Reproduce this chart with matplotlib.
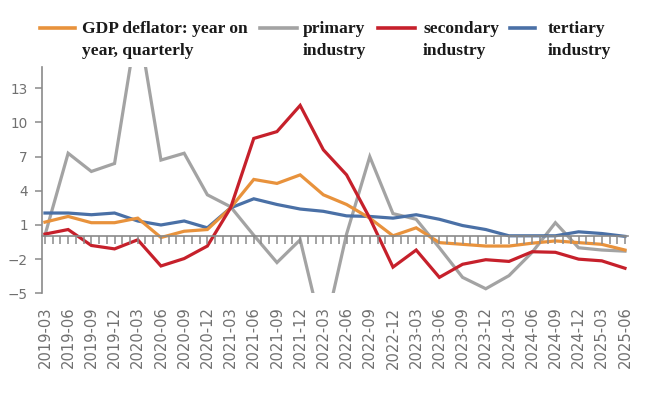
import numpy as np
import matplotlib
matplotlib.use("Agg")
import matplotlib.pyplot as plt
from matplotlib.lines import Line2D

# quarterly dates and y/y changes (%)
quarters = ['2019-03', '2019-06', '2019-09', '2019-12', '2020-03', '2020-06',
            '2020-09', '2020-12', '2021-03', '2021-06', '2021-09', '2021-12',
            '2022-03', '2022-06', '2022-09', '2022-12', '2023-03', '2023-06',
            '2023-09', '2023-12', '2024-03', '2024-06', '2024-09', '2024-12',
            '2025-03', '2025-06']

gdp_deflator = [1.25, 1.75, 1.2, 1.2, 1.6, -0.1, 0.45, 0.6, 2.5, 5.0, 4.65, 5.4, 3.65,
                2.8, 1.6, 0.05, 0.75, -0.55, -0.7, -0.85, -0.85, -0.6, -0.4, -0.55, -0.7, -1.2]
primary = [0.1, 7.3, 5.7, 6.4, 19.0, 6.7, 7.3, 3.65, 2.6, 0.1, -2.3, -0.3, -8.8,
           0.2, 7.0, 2.0, 1.5, -1.0, -3.6, -4.6, -3.45, -1.4, 1.2, -1.0, -1.2, -1.3]
secondary = [0.2, 0.6, -0.8, -1.1, -0.3, -2.6, -1.95, -0.85, 2.5, 8.6, 9.2, 11.5, 7.6,
             5.4, 1.6, -2.7, -1.2, -3.6, -2.45, -2.05, -2.2, -1.35, -1.4, -2.0, -2.15, -2.8]
tertiary = [2.05, 2.05, 1.9, 2.05, 1.35, 1.0, 1.35, 0.75, 2.5, 3.3, 2.8, 2.4, 2.2,
            1.8, 1.75, 1.6, 1.9, 1.5, 0.95, 0.6, 0.05, 0.05, 0.05, 0.4, 0.25, 0.0]

yticks = [-5, -2, 1, 4, 7, 10, 13]

series = [
    (primary, '#a3a3a3', ['primary', 'industry']),
    (tertiary, '#4a70a6', ['tertiary', 'industry']),
    (gdp_deflator, '#e8923c', ['GDP deflator: year on', 'year, quarterly']),
    (secondary, '#c6202b', ['secondary', 'industry']),
]

W, H = 660, 396
fig = plt.figure(figsize=(W / 100, H / 100), dpi=100)
ax = fig.add_axes([41.7 / W, (H - 293.3) / H, (628 - 41.7) / W, (293.3 - 66.7) / H])

x = np.arange(len(quarters))
for vals, col, _ in series:
    ax.plot(x, vals, color=col, lw=2.3, solid_joinstyle='miter')

ax.set_xlim(-0.14, 25.13)
ax.set_ylim(-5, 14.9)

axis_col = '#8a8a8a'
for s in ['top', 'right']:
    ax.spines[s].set_visible(False)
ax.spines['left'].set_color(axis_col)
ax.spines['left'].set_linewidth(1.2)
ax.spines['bottom'].set_position(('data', 0))
ax.spines['bottom'].set_color(axis_col)
ax.spines['bottom'].set_linewidth(1.2)
ax.set_axisbelow(False)

# monthly tick marks along the zero line
ax.set_xticks(np.arange(0, 25.01, 1 / 3))
ax.tick_params(axis='x', length=6, width=1.1, color=axis_col, labelbottom=False)

ax.set_yticks(yticks)
ax.set_yticklabels([str(v).replace('-', '\u2212') for v in yticks])
ax.tick_params(axis='y', length=5, width=1.1, color=axis_col, pad=5,
               labelsize=9.8, labelcolor='#707070')

# quarter labels at the bottom
sec = ax.secondary_xaxis('bottom')
sec.spines['bottom'].set_visible(False)
sec.set_xticks(x)
sec.set_xticklabels(quarters, rotation=90)
sec.tick_params(length=0, pad=9.5, labelsize=10.6, labelcolor='#707070')

# legend (handles aligned with the first text line)
leg_pos = {  # handle start, handle end, text x (pixels)
    'GDP deflator: year on': (40, 75, 82),
    'primary': (260, 297, 303),
    'secondary': (378, 415, 423),
    'tertiary': (510, 535, 548),
}
font = dict(family='Liberation Serif', weight='bold', size=12.6, color='#1a1a1a')
for vals, col, lab in series:
    x0, x1, tx = leg_pos[lab[0]]
    fig.add_artist(Line2D([x0 / W, x1 / W], [1 - 28.3 / H, 1 - 28.3 / H],
                          color=col, lw=2.6, transform=fig.transFigure))
    fig.text(tx / W, 1 - 33.3 / H, lab[0], va='baseline', ha='left', **font)
    fig.text(tx / W, 1 - 55 / H, lab[1], va='baseline', ha='left', **font)

fig.savefig('out.png', dpi=100)
